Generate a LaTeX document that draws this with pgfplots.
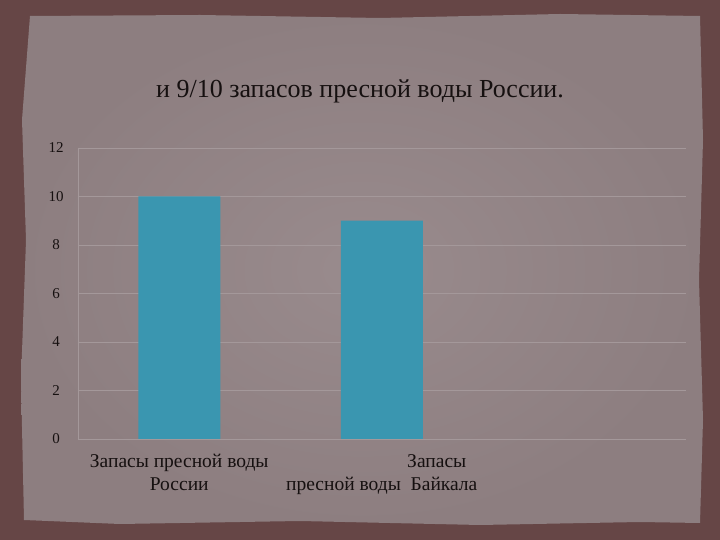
\documentclass[border=0pt]{standalone}
\usepackage{pgfplots}
\pgfplotsset{compat=1.18}
\usepackage{fontspec}
\setmainfont{Liberation Serif}
\definecolor{borderc}{RGB}{102,70,70}
\definecolor{paperin}{RGB}{153,139,141}
\definecolor{paperout}{RGB}{141,126,128}
\definecolor{gridc}{RGB}{164,152,154}
\definecolor{barc}{RGB}{58,150,176}
\definecolor{txt}{RGB}{22,16,16}
\begin{document}
\begin{tikzpicture}[x=1pt,y=1pt]
\fill[borderc] (0,0) rectangle (720,540);
\shade[inner color=paperin, outer color=paperout]
  (24,20) -- (120,16) -- (300,19) -- (480,15) -- (640,18) -- (700,17) -- (703,120) -- (699,260) -- (703,400) -- (700,524) -- (560,526) -- (380,522) -- (200,525) -- (30,524) -- (22,420) -- (26,300) -- (21,160) -- cycle;
\node[font=\fontsize{26}{30}\selectfont, text=txt] at (360,449) {и 9/10 запасов пресной воды России.};
\begin{axis}[
  at={(78pt,101pt)}, anchor=south west,
  scale only axis, width=607.5pt, height=291pt,
  xmin=0.5, xmax=3.5, ymin=0, ymax=12,
  ytick={0,2,4,6,8,10,12},
  xtick={1,2},
  xticklabels={{Запасы пресной воды\\России},{\hspace*{110pt}Запасы\\пресной воды\ \ Байкала}},
  ybar, bar width=82pt,
  axis x line*=bottom, axis y line*=left,
  axis line style={gridc, -},
  major tick length=0pt,
  ymajorgrids, grid style={gridc, line width=0.6pt},
  /pgf/number format/assume math mode=true,
  yticklabel style={anchor=center, xshift=-22pt, font=\fontsize{15}{17}\selectfont, text=txt},
  xticklabel style={align=center, font=\fontsize{19.5}{23}\selectfont, text=txt, yshift=-12pt},
]
\addplot[fill=barc, draw=none] coordinates {(1,10) (2,9)};
\end{axis}
\end{tikzpicture}
\end{document}
